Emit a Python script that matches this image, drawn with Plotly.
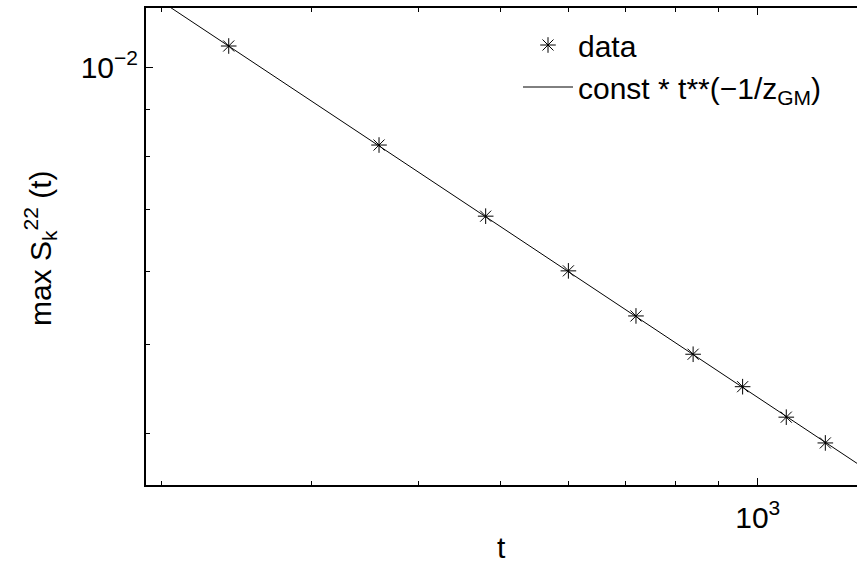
import numpy as np
import plotly.graph_objects as go

# data
t_vals = [240, 360, 480, 600, 720, 840, 960, 1080, 1200]
s_vals = [0.01054, 0.00823, 0.00689, 0.00601, 0.00537, 0.00488, 0.00450, 0.00417, 0.00391]

# fit parameters: const * t**(-1/z_GM)
fit_const = 0.3066
z_gm = 1.626
fit_t = [150, 1500]

x_major = [1000]
x_major_text = ["10<sup>3</sup>"]
x_minor = [200, 300, 400, 500, 600, 700, 800, 900]
y_major = [0.01]
y_major_text = ["10<sup>\u22122</sup>"]
y_minor = [0.004, 0.005, 0.006, 0.007, 0.008, 0.009]

W, H = 857, 567
L, R, T, B = 146, 0, 8, 82
FONT = "Liberation Sans, Arial, Helvetica, sans-serif"

fit_t_arr = np.geomspace(fit_t[0], fit_t[1], 200)
fit_s = fit_const * fit_t_arr ** (-1.0 / z_gm)

fig = go.Figure()
fig.add_trace(go.Scatter(
    x=t_vals, y=s_vals, mode="markers", name="data",
    marker=dict(symbol="asterisk-open", size=13, color="black",
                line=dict(color="black", width=1)),
))
fig.add_trace(go.Scatter(
    x=fit_t_arr, y=fit_s, mode="lines",
    name="const * t**(\u22121/z<sub>GM</sub>)",
    line=dict(color="black", width=1),
))

pw = W - L - R
ph = H - T - B

def px2paper_x(px):
    return (px - L) / pw

def px2paper_y(py):
    return (H - B - py) / ph

axis_common = dict(
    showgrid=False, zeroline=False, showline=True, linecolor="black",
    linewidth=2, ticks="inside", tickcolor="black", tickwidth=1, ticklen=7,
    tickfont=dict(family=FONT, size=30, color="black"),
)

fig.update_layout(
    width=W, height=H,
    margin=dict(l=L, r=R, t=T, b=B, autoexpand=False),
    paper_bgcolor="white", plot_bgcolor="white",
    font=dict(family=FONT, size=30, color="black"),
    showlegend=True,
    legend=dict(
        x=px2paper_x(518), xanchor="left",
        y=px2paper_y(19), yanchor="top",
        bgcolor="rgba(0,0,0,0)", borderwidth=0,
        itemwidth=50, font=dict(family=FONT, size=30, color="black"),
        tracegroupgap=0,
    ),
    xaxis=dict(
        type="log", range=[np.log10(192), np.log10(1307)],
        tickmode="array", tickvals=x_major, ticktext=x_major_text,
        mirror="ticks", ticklabelstandoff=5,
        minor=dict(tickmode="array", tickvals=x_minor, ticks="inside",
                   ticklen=4, tickcolor="black", tickwidth=1, showgrid=False),
        **axis_common,
    ),
    yaxis=dict(
        type="log", range=[np.log10(0.00352), np.log10(0.01159)],
        tickmode="array", tickvals=y_major, ticktext=y_major_text,
        mirror=False,
        minor=dict(tickmode="array", tickvals=y_minor, ticks="inside",
                   ticklen=4, tickcolor="black", tickwidth=1, showgrid=False),
        **axis_common,
    ),
)

fig.add_annotation(
    text="t", xref="paper", yref="paper",
    x=0.5, y=px2paper_y(566), xanchor="center", yanchor="bottom",
    showarrow=False, font=dict(family=FONT, size=30, color="black"),
)
fig.add_annotation(
    text="max S<sub>k</sub><sup>22</sup> (t)", xref="paper", yref="paper",
    x=px2paper_x(40), y=px2paper_y(248), xanchor="center", yanchor="middle",
    textangle=-90, showarrow=False,
    font=dict(family=FONT, size=30, color="black"),
)

fig.write_html("out.html")
